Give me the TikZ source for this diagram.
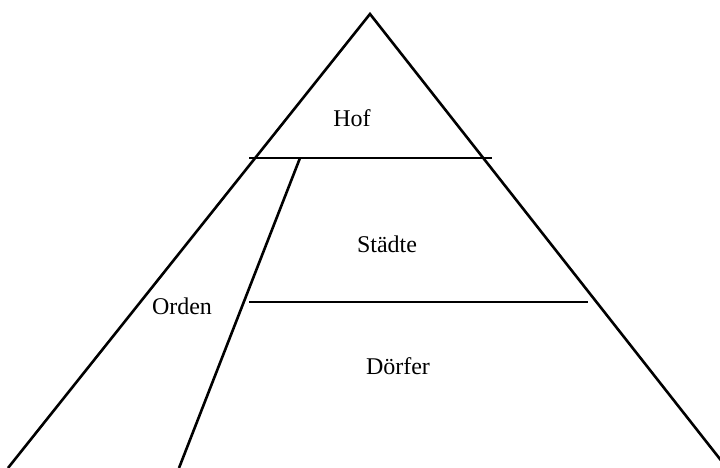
\documentclass[tikz,border=0pt]{standalone}
\usepackage{fontspec}
\setmainfont{Liberation Serif}
\begin{document}
\begin{tikzpicture}[x=1pt,y=-1pt,
  edge/.style={line width=2.6pt},
  lbl/.style={font=\fontsize{24}{28}\selectfont, anchor=base, inner sep=0pt}]
\useasboundingbox (0,0) rectangle (720,468);
\begin{scope}
\clip (0,0) rectangle (720,468);
\coordinate (apex) at (370,14);
\coordinate (bl) at (8,468);
\coordinate (br) at (727,468);
\coordinate (h1l) at (249,158);
\coordinate (h1r) at (492,158);
\coordinate (h2l) at (249,302);
\coordinate (h2r) at (588,302);
\coordinate (it) at (300,158);
\coordinate (ib) at (179,468);
\draw[edge] (bl) -- (apex) -- (br);
\draw[edge] (h1l) -- (h1r);
\draw[edge] (h2l) -- (h2r);
\draw[edge] (it) -- (ib);
\end{scope}
\node[lbl] (hof) at (352,127) {Hof};
\node[lbl] (staedte) at (387,252) {Städte};
\node[lbl] (orden) at (182,314) {Orden};
\node[lbl] (doerfer) at (398,374) {Dörfer};
\end{tikzpicture}
\end{document}
